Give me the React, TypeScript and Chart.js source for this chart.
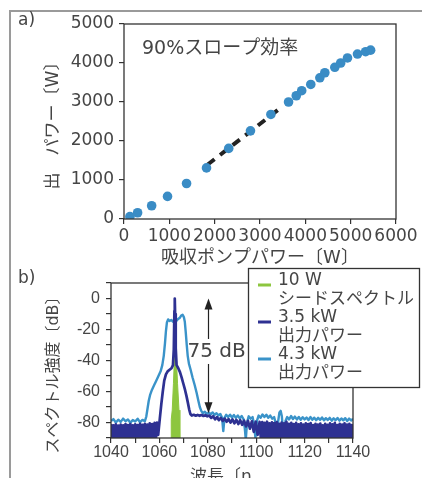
import React, { useEffect, useRef } from 'react';
import { Chart, registerables } from 'chart.js';

Chart.register(...registerables);

// ---------- panel a) data ----------
const pumpPower = [130, 300, 610, 960, 1380, 1820, 2310, 2790, 3240, 3630, 3800, 3920, 4120, 4320, 4430, 4650, 4780, 4930, 5150, 5330, 5440];
const outputPower = [60, 160, 340, 580, 910, 1310, 1810, 2260, 2680, 3000, 3160, 3290, 3450, 3620, 3750, 3890, 4000, 4130, 4230, 4290, 4330];
const slopeFitPump = [1840, 3400];
const slopeFitOut = [1390, 2800];
const aXTicks = [0, 1000, 2000, 3000, 4000, 5000, 6000];
const aYTicks = [0, 1000, 2000, 3000, 4000, 5000];
const slopeText = '90%スロープ効率';

// ---------- panel b) data ----------
const seedWl = [1064.8, 1064.9, 1065.3, 1065.8, 1066.3, 1066.6, 1066.9, 1067.5, 1068.1, 1068.4, 1068.5];
const seedDb = [-92, -78, -72, -55, -35, -28, -35, -55, -72, -78, -92];

const kw35Wl = [
  1040, 1040.5, 1041, 1041.5, 1042, 1042.5, 1043, 1043.5, 1044, 1044.5, 1045, 1045.5, 1046, 1046.5, 1047, 1047.5,
  1048, 1048.5, 1049, 1049.5, 1050, 1050.5, 1051, 1051.5, 1052, 1052.5, 1053, 1053.5, 1054, 1054.5, 1055, 1055.5,
  1056, 1056.5, 1057, 1057.5, 1058, 1058.5, 1059, 1059.5,
  1060.2, 1060.8, 1061.4, 1062, 1062.7, 1063.4, 1064.2, 1065, 1065.6, 1065.95, 1066.2, 1066.35, 1066.5, 1066.75,
  1067.1, 1067.8, 1068.5, 1069.2, 1069.9, 1070.6, 1071.2, 1071.8, 1072.3, 1072.8, 1073.4, 1074.2, 1075, 1075.8, 1076.6,
  1077.4, 1078.2, 1079, 1079.8, 1080.6, 1081.4, 1082.2, 1083, 1083.8, 1084.6, 1085.4, 1086.2, 1087, 1087.8, 1088.6, 1089.4,
  1090.2, 1091, 1091.8, 1092.6, 1093.4, 1094.2, 1095, 1095.8, 1096.6, 1097.4, 1098.2, 1099, 1099.8, 1100.6, 1101.4,
  1102, 1102.5, 1103, 1103.5, 1104, 1104.5, 1105, 1105.5, 1106, 1106.5, 1107, 1107.5, 1108, 1108.5, 1109, 1109.5,
  1110, 1110.5, 1111, 1111.5, 1112, 1112.5, 1113, 1113.5, 1114, 1114.5, 1115, 1115.5, 1116, 1116.5, 1117, 1117.5,
  1118, 1118.5, 1119, 1119.5, 1120, 1120.5, 1121, 1121.5, 1122, 1122.5, 1123, 1123.5, 1124, 1124.5, 1125, 1125.5,
  1126, 1126.5, 1127, 1127.5, 1128, 1128.5, 1129, 1129.5, 1130, 1130.5, 1131, 1131.5, 1132, 1132.5, 1133, 1133.5,
  1134, 1134.5, 1135, 1135.5, 1136, 1136.5, 1137, 1137.5, 1138, 1138.5, 1139, 1139.5, 1140,
];
const kw35Db = [
  -81, -92, -81.8, -92, -81.2, -92, -82, -92, -81.4, -92, -81.9, -92, -81, -92, -81.6, -92,
  -81.1, -92, -81.8, -92, -81.2, -92, -81.7, -92, -80.9, -92, -81.5, -92, -80.8, -92, -81.3, -92,
  -80.6, -92, -81, -92, -80.3, -92, -80, -88,
  -77, -68, -60, -53, -49, -47, -46, -45, -43, -33, -8, 0, -10, -32,
  -43, -45, -47.5, -51, -55, -59, -63, -67.5, -71.5, -74.5, -75.5, -75, -75.6, -75.1, -75.7,
  -75.2, -75.8, -75.3, -76, -75.5, -77, -76, -78, -76.5, -78.5, -77, -79, -77.5, -79.5, -77.8, -80,
  -78, -80.5, -78.3, -81, -78.5, -81.5, -78.8, -82.5, -79, -84, -79.2, -86, -79.5, -88, -79.6,
  -92, -79.8, -92, -80.3, -92, -79.5, -92, -80.6, -92, -79.9, -92, -80.4, -92, -79.7, -92, -80.8,
  -92, -80, -92, -80.5, -92, -79.6, -92, -80.9, -92, -80.2, -92, -81, -92, -80.3, -92, -81.2,
  -92, -80.5, -92, -81.4, -92, -80.6, -92, -81.1, -92, -80.4, -92, -81.6, -92, -80.8, -92, -81.3,
  -92, -80.7, -92, -81.8, -92, -80.9, -92, -81.5, -92, -80.6, -92, -81.2, -92, -80.3, -92, -81.7,
  -92, -80.8, -92, -81.4, -92, -80.5, -92, -81.3, -92, -80.9, -92, -81.6, -92,
];

const kw43Wl = [
  1040, 1041, 1042, 1043, 1044, 1045, 1046, 1047, 1048, 1049, 1050, 1051, 1052, 1053, 1054,
  1054.6, 1055.1, 1055.6, 1056.2, 1056.9, 1057.8, 1058.7, 1059.6, 1060.5, 1061.2, 1061.8, 1062.3, 1062.7, 1063.1, 1063.6,
  1064.2, 1064.9, 1065.6, 1066.3, 1067, 1067.7, 1068.4, 1069, 1069.6, 1070.1, 1070.5, 1070.9, 1071.3, 1071.7, 1072.2,
  1072.9, 1073.7, 1074.6, 1075.4, 1076.1, 1076.7, 1077.3, 1078, 1078.8, 1079.6, 1080.4, 1081.2, 1082, 1082.8, 1083.6,
  1084.4, 1085.2, 1085.9, 1086.4, 1086.9, 1087.6, 1088.4, 1089.2, 1090, 1090.8, 1091.6, 1092.4, 1093.2, 1094, 1094.8,
  1095.3, 1095.7, 1096.2, 1096.9, 1097.7, 1098.5, 1099.2, 1099.7, 1100.3, 1101, 1101.8, 1102.6, 1103.4, 1104.2, 1105,
  1105.8, 1106.6, 1107.4, 1108, 1108.5, 1109, 1109.6, 1110.1, 1110.6, 1111.1, 1111.6, 1112.1, 1112.8, 1113.6, 1114.4,
  1115.2, 1116, 1116.8, 1117.6, 1118.4, 1119.2, 1120, 1120.8, 1121.6, 1122.4, 1123.2, 1124, 1124.8, 1125.6, 1126.4,
  1127.2, 1128, 1128.8, 1129.6, 1130.4, 1131.2, 1132, 1132.8, 1133.6, 1134.4, 1135.2, 1136, 1136.8, 1137.6, 1138.4,
  1139.2, 1140,
];
const kw43Db = [
  -79, -77.8, -80, -78.2, -79.6, -77.5, -79.2, -78, -80.2, -78.4, -79.4, -77.6, -79.8, -78.3, -79.2,
  -76, -71, -66, -62, -59, -56, -53, -50, -47, -43, -37, -29, -21, -15.5, -13.5,
  -14.5, -13.8, -15, -14, -14.5, -13.2, -12.5, -11, -10.5, -12, -15, -22, -30, -37, -42,
  -46, -51, -56, -61, -66, -70, -72.5, -74, -73, -74.5, -73.5, -74.8, -73.5, -75, -74,
  -75.5, -74.5, -77, -85.5, -77, -75, -76.5, -75, -76.8, -75.2, -77, -75.5, -77.3, -75.8, -78,
  -84, -91, -80, -76, -77.5, -76.5, -82, -90, -79, -75.5, -77, -74.8, -76.5, -75, -77,
  -75.5, -77.5, -76.5, -80, -91, -80, -73.5, -72.5, -76, -86, -91, -79, -76.5, -78, -75.8,
  -77.8, -76.2, -78, -76.4, -78.2, -76.6, -78, -76.8, -78.4, -76.5, -78.2, -76.9, -78.5, -77, -78.3,
  -76.8, -78.6, -77.2, -78.4, -77, -78.8, -77.3, -78.5, -77.1, -78.8, -77.4, -78.6, -77.2, -79, -77.5,
  -78.7, -77.6,
];

const seriesLabels = ['10 W\nシードスペクトル', '3.5 kW\n出力パワー', '4.3 kW\n出力パワー'];
const bXLabelTicks = [1040, 1060, 1080, 1100, 1120, 1140];
const bXMinorTicks = [1050, 1070, 1090, 1110, 1130];
const bYLabelTicks = [0, -20, -40, -60, -80];
const bYMinorTicks = [10, -10, -30, -50, -70, -90];
const arrowWl = 1080;
const arrowFrom = 0;
const arrowTo = -74;
const arrowText = '75 dB';
const arrowTextWl = 1083.6;
const arrowTextDb = -34.5;

// ---------- styles ----------
const FONT = "'DejaVu Sans', 'Noto Sans CJK JP', sans-serif";
const TXT = '#454545';
const AXIS = '#333';
const GREEN = '#8dc63f';
const NAVY = '#2e3192';
const LIGHT = '#3a93c9';
const DOT = '#3a8cc5';

const boxPlugin = {
  id: 'box',
  afterDatasetsDraw(chart: any) {
    const { ctx, chartArea } = chart;
    ctx.save();
    ctx.strokeStyle = AXIS;
    ctx.lineWidth = 1.3;
    ctx.strokeRect(chartArea.left, chartArea.top, chartArea.right - chartArea.left, chartArea.bottom - chartArea.top);
    ctx.restore();
  },
};

function mergeTicks(a: number[], b: number[]) {
  return [...a, ...b].sort((p, q) => p - q).map((v) => ({ value: v }));
}

export default function App() {
  const aRef = useRef<HTMLCanvasElement>(null);
  const bRef = useRef<HTMLCanvasElement>(null);

  useEffect(() => {
    const annotA = {
      id: 'annotA',
      afterDraw(chart: any) {
        const { ctx } = chart;
        ctx.save();
        ctx.fillStyle = TXT;
        ctx.textBaseline = 'middle';
        ctx.textAlign = 'left';
        ctx.font = `17px ${FONT}`;
        ctx.fillText('a)', 18, 21);
        ctx.font = `19px ${FONT}`;
        ctx.fillText(slopeText, 142, 49);
        ctx.restore();
      },
    };

    const chartA = new Chart(aRef.current as HTMLCanvasElement, {
      type: 'scatter',
      data: {
        datasets: [
          {
            type: 'scatter',
            label: 'output',
            data: pumpPower.map((x, i) => ({ x, y: outputPower[i] })),
            backgroundColor: DOT,
            borderWidth: 0,
            pointRadius: 4.8,
            order: 1,
          } as any,
          {
            type: 'line',
            label: 'fit',
            data: slopeFitPump.map((x, i) => ({ x, y: slopeFitOut[i] })),
            borderColor: '#222',
            borderWidth: 4,
            borderDash: [9, 7],
            pointRadius: 0,
            fill: false,
            order: 2,
          } as any,
        ],
      },
      options: {
        responsive: false,
        animation: false,
        devicePixelRatio: 1,
        events: [],
        layout: { padding: { top: 24, right: 26, left: 0, bottom: 0 } },
        plugins: { legend: { display: false }, tooltip: { enabled: false } },
        scales: {
          x: {
            type: 'linear',
            min: 0,
            max: 6000,
            afterBuildTicks: (s: any) => { s.ticks = aXTicks.map((v) => ({ value: v })); },
            afterFit: (s: any) => { s.height = 51; },
            border: { display: false },
            grid: { drawOnChartArea: false, drawTicks: true, tickLength: 5, color: AXIS, lineWidth: 1.2 },
            ticks: { color: TXT, font: { family: FONT, size: 17 }, padding: 2, maxRotation: 0, autoSkip: false, callback: (v: any) => String(v) },
            title: { display: true, text: '吸収ポンプパワー〔W〕', color: TXT, font: { family: FONT, size: 18 }, padding: { top: 0, bottom: 1 } },
          },
          y: {
            type: 'linear',
            min: 0,
            max: 5000,
            afterBuildTicks: (s: any) => { s.ticks = aYTicks.map((v) => ({ value: v })); },
            afterFit: (s: any) => { s.width = 124; },
            border: { display: false },
            grid: { drawOnChartArea: false, drawTicks: true, tickLength: 5, color: AXIS, lineWidth: 1.2 },
            ticks: { color: TXT, font: { family: FONT, size: 17 }, padding: 5, autoSkip: false, callback: (v: any) => String(v) },
            title: { display: true, text: '出\u3000パワー〔W〕', color: TXT, font: { family: FONT, size: 17 }, padding: { top: 43, bottom: 0 } },
          },
        },
      },
      plugins: [boxPlugin, annotA],
    } as any);

    const annotB = {
      id: 'annotB',
      afterDraw(chart: any) {
        const { ctx, scales } = chart;
        const xs = scales.x;
        const ys = scales.y;
        ctx.save();
        // double arrow
        const ax = Math.round(xs.getPixelForValue(arrowWl)) + 0.5;
        const y1 = ys.getPixelForValue(arrowFrom);
        const y2 = ys.getPixelForValue(arrowTo);
        ctx.strokeStyle = '#222';
        ctx.fillStyle = '#222';
        ctx.lineWidth = 1.2;
        ctx.beginPath();
        ctx.moveTo(ax, y1 + 8);
        ctx.lineTo(ax, y2 - 8);
        ctx.stroke();
        ctx.beginPath();
        ctx.moveTo(ax, y1);
        ctx.lineTo(ax - 4, y1 + 11);
        ctx.lineTo(ax + 4, y1 + 11);
        ctx.closePath();
        ctx.fill();
        ctx.beginPath();
        ctx.moveTo(ax, y2);
        ctx.lineTo(ax - 4, y2 - 11);
        ctx.lineTo(ax + 4, y2 - 11);
        ctx.closePath();
        ctx.fill();
        // label with white backing
        const tx = xs.getPixelForValue(arrowTextWl);
        const ty = ys.getPixelForValue(arrowTextDb);
        ctx.font = `20px ${FONT}`;
        const w = ctx.measureText(arrowText).width;
        ctx.fillStyle = '#fff';
        ctx.fillRect(tx - w / 2 + 3, ty - 13, w - 2, 25);
        ctx.fillStyle = TXT;
        ctx.textAlign = 'center';
        ctx.textBaseline = 'middle';
        ctx.fillText(arrowText, tx, ty);
        // panel label
        ctx.textAlign = 'left';
        ctx.font = `17px ${FONT}`;
        ctx.fillText('b)', 18, 17);
        // legend
        const bx = 248, by = 6, bw = 172, bh = 120;
        ctx.fillStyle = '#fff';
        ctx.fillRect(bx, by, bw, bh);
        ctx.strokeStyle = AXIS;
        ctx.lineWidth = 1.3;
        ctx.strokeRect(bx + 0.5, by + 0.5, bw - 1, bh - 1);
        chart.data.datasets.forEach((ds: any, i: number) => {
          const lines = String(ds.label).split('\n');
          const y0 = by + 13 + i * 37;
          ctx.strokeStyle = ds.borderColor;
          ctx.lineWidth = 3;
          ctx.beginPath();
          ctx.moveTo(bx + 10, y0 + 4);
          ctx.lineTo(bx + 23, y0 + 4);
          ctx.stroke();
          ctx.fillStyle = TXT;
          ctx.font = `17px ${FONT}`;
          lines.forEach((t, j) => ctx.fillText(t, bx + 30, y0 + j * 18.7));
        });
        ctx.restore();
      },
    };

    const chartB = new Chart(bRef.current as HTMLCanvasElement, {
      type: 'line',
      data: {
        datasets: [
          {
            label: seriesLabels[0],
            data: seedWl.map((x, i) => ({ x, y: seedDb[i] })),
            borderColor: GREEN,
            backgroundColor: GREEN,
            borderWidth: 1,
            fill: 'start',
            pointRadius: 0,
            clip: 0,
            order: 2,
          },
          {
            label: seriesLabels[1],
            data: kw35Wl.map((x, i) => ({ x, y: kw35Db[i] })),
            borderColor: NAVY,
            borderWidth: 2.7,
            borderJoinStyle: 'round',
            fill: false,
            pointRadius: 0,
            clip: 0,
            order: 1,
          },
          {
            label: seriesLabels[2],
            data: kw43Wl.map((x, i) => ({ x, y: kw43Db[i] })),
            borderColor: LIGHT,
            borderWidth: 2.4,
            borderJoinStyle: 'round',
            fill: false,
            pointRadius: 0,
            clip: 0,
            order: 3,
          },
        ],
      },
      options: {
        responsive: false,
        animation: false,
        devicePixelRatio: 1,
        events: [],
        layout: { padding: { top: 21, right: 69, left: 0, bottom: 0 } },
        plugins: { legend: { display: false }, tooltip: { enabled: false } },
        scales: {
          x: {
            type: 'linear',
            min: 1040,
            max: 1140,
            afterBuildTicks: (s: any) => { s.ticks = mergeTicks(bXLabelTicks, bXMinorTicks); },
            afterFit: (s: any) => { s.height = 54; },
            border: { display: false },
            grid: { drawOnChartArea: false, drawTicks: true, tickLength: 5, color: AXIS, lineWidth: 1.2 },
            ticks: {
              color: TXT,
              font: { family: "'Liberation Sans', sans-serif", size: 16 },
              padding: 0,
              maxRotation: 0,
              autoSkip: false,
              callback: (v: any) => (bXLabelTicks.includes(Number(v)) ? String(v) : ''),
            },
            title: { display: true, text: '波長〔n\u3000 ', color: TXT, font: { family: FONT, size: 17 }, padding: { top: 0, bottom: 4 } },
          },
          y: {
            type: 'linear',
            min: -90,
            max: 10,
            afterBuildTicks: (s: any) => { s.ticks = mergeTicks(bYLabelTicks, bYMinorTicks); },
            afterFit: (s: any) => { s.width = 111; },
            border: { display: false },
            grid: { drawOnChartArea: false, drawTicks: true, tickLength: 5, color: AXIS, lineWidth: 1.2 },
            ticks: {
              color: TXT,
              font: { family: "'Liberation Sans', sans-serif", size: 16 },
              padding: 6,
              autoSkip: false,
              callback: (v: any) => (bYLabelTicks.includes(Number(v)) ? String(v) : ''),
            },
            title: { display: true, text: 'スペクトル強度〔dB〕\u3000\u2002 ', color: TXT, font: { family: FONT, size: 16 }, padding: { top: 44, bottom: 0 } },
          },
        },
      },
      plugins: [boxPlugin, annotB],
    } as any);

    return () => {
      chartA.destroy();
      chartB.destroy();
    };
  }, []);

  return (
    <div style={{ position: 'fixed', left: 0, top: 0, width: 422, height: 478, overflow: 'hidden', background: '#fff' }}>
      <div
        style={{
          position: 'absolute',
          left: 9,
          top: 10,
          width: 440,
          height: 500,
          borderLeft: '2px solid #9a9a9a',
          borderTop: '2px solid #9a9a9a',
        }}
      />
      <canvas ref={aRef} width={422} height={270} style={{ position: 'absolute', left: 0, top: 0 }} />
      <canvas ref={bRef} width={422} height={230} style={{ position: 'absolute', left: 0, top: 262 }} />
    </div>
  );
}
